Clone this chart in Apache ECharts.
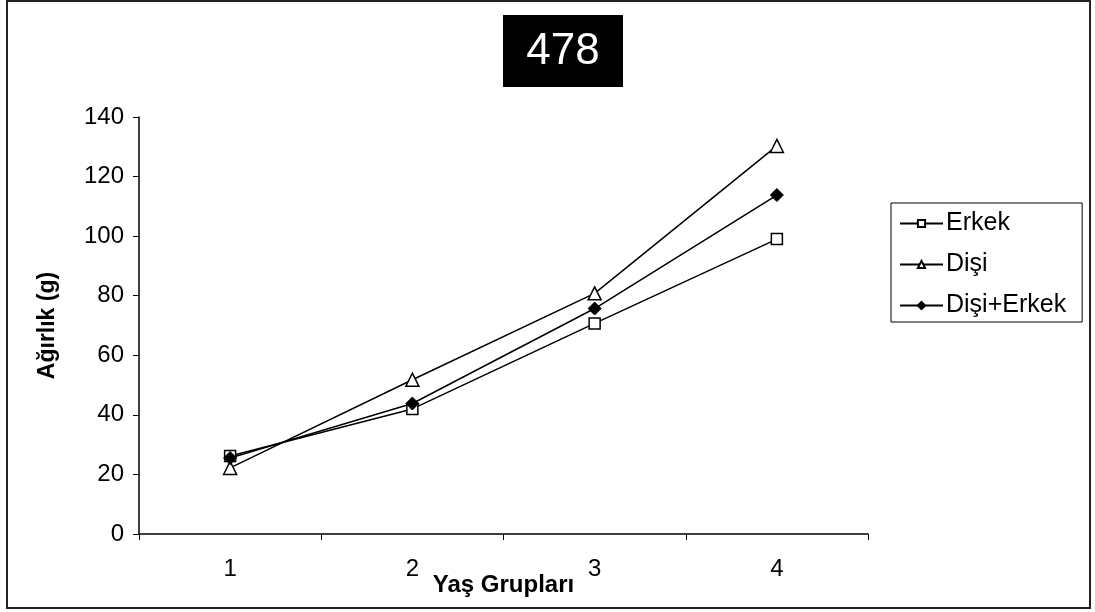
<!DOCTYPE html>
<html><head><meta charset="utf-8">
<script src="https://cdn.jsdelivr.net/npm/echarts@6/dist/echarts.min.js"></script>
<style>html,body{margin:0;padding:0;background:#fff}#c{width:1095px;height:612px}</style>
</head><body><div id="c"></div>
<script>
const categories = ['1', '2', '3', '4'];
const erkek = [26.2, 42, 70.7, 99];
const disi = [22.2, 51.8, 80.8, 130.3];
const disiErkek = [25.5, 43.8, 75.7, 113.8];
const yTicks = [0, 20, 40, 60, 80, 100, 120, 140];
const titleText = '478';

const font = '"Liberation Sans", Arial, sans-serif';
const chart = echarts.init(document.getElementById('c'));
chart.setOption({
  animation: false,
  backgroundColor: '#fff',
  grid: { left: 139, top: 117, width: 729, height: 417, containLabel: false, outerBoundsMode: 'none' },
  graphic: [
    { type: 'rect', shape: { x: 7, y: 1, width: 1083, height: 607 }, style: { fill: 'none', stroke: '#222', lineWidth: 2 }, silent: true },
    { type: 'rect', shape: { x: 503, y: 15, width: 120, height: 72 }, style: { fill: '#000' }, silent: true },
    { type: 'text', x: 563, y: 52, style: { text: titleText, fill: '#fff', font: '44px ' + font, textAlign: 'center', textVerticalAlign: 'middle' }, silent: true }
  ],
  legend: {
    orient: 'vertical', left: 891, top: 203,
    padding: [8, 16, 4, 8],
    borderColor: '#000', borderWidth: 1,
    itemWidth: 43, itemHeight: 9, itemGap: 16,
    textStyle: { fontFamily: font, fontSize: 25, color: '#000', padding: [0, 0, 0, -2] },
    data: ['Erkek', 'Dişi', 'Dişi+Erkek']
  },
  xAxis: {
    type: 'category', data: categories, boundaryGap: true,
    name: 'Yaş Grupları', nameLocation: 'middle', nameGap: 39, nameMoveOverlap: false,
    nameTextStyle: { fontFamily: font, fontSize: 24, fontWeight: 'bold', color: '#000' },
    axisLine: { lineStyle: { color: '#000', width: 1.5 } },
    axisTick: { show: true, length: 6, lineStyle: { color: '#000' } },
    axisLabel: { fontFamily: font, fontSize: 24, color: '#000', margin: 23 },
    splitLine: { show: false }
  },
  yAxis: {
    type: 'value', min: 0, max: 140, interval: 20,
    name: 'Ağırlık (g)', nameLocation: 'middle', nameGap: 80, nameRotate: 90, nameMoveOverlap: false,
    nameTextStyle: { fontFamily: font, fontSize: 23, fontWeight: 'bold', color: '#000' },
    axisLine: { show: true, lineStyle: { color: '#000', width: 1.5 } },
    axisTick: { show: true, length: 6, lineStyle: { color: '#000' } },
    axisLabel: { fontFamily: font, fontSize: 24, color: '#000', margin: 15,
      formatter: v => yTicks.includes(v) ? String(v) : '' },
    splitLine: { show: false }
  },
  series: [
    { name: 'Erkek', type: 'line', data: erkek, symbol: 'rect', symbolSize: 11,
      lineStyle: { color: '#000', width: 1.5 }, itemStyle: { color: '#fff', borderColor: '#000', borderWidth: 1.5 }, z: 3 },
    { name: 'Dişi', type: 'line', data: disi, symbol: 'triangle', symbolSize: 13,
      lineStyle: { color: '#000', width: 1.5 }, itemStyle: { color: '#fff', borderColor: '#000', borderWidth: 1.5 }, z: 2 },
    { name: 'Dişi+Erkek', type: 'line', data: disiErkek, symbol: 'diamond', symbolSize: 13,
      lineStyle: { color: '#000', width: 1.5 }, itemStyle: { color: '#000', borderColor: '#000', borderWidth: 1 }, z: 4 }
  ]
});
</script></body></html>
